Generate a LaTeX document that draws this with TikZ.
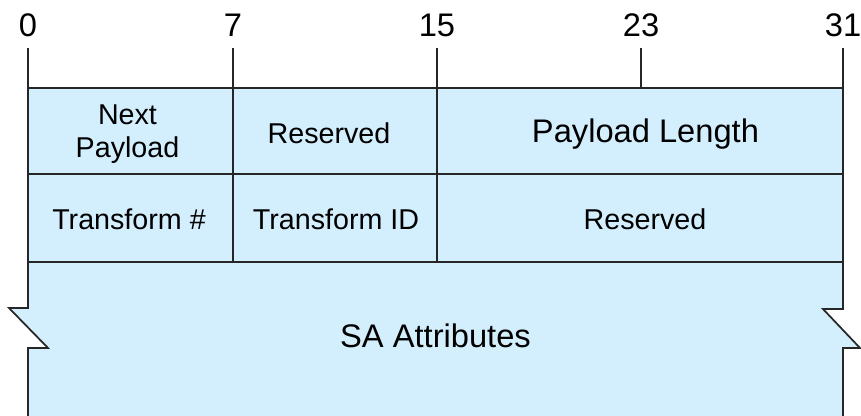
\documentclass[tikz,border=0pt]{standalone}
\usepackage{fontspec}
\setmainfont{Liberation Sans}
\usetikzlibrary{positioning}
\definecolor{fieldblue}{RGB}{211,238,252}

\begin{document}
\begin{tikzpicture}[x=0.75pt,y=-0.75pt,
  edge/.style={draw=black!85,line width=1.3pt},
  fieldtxt/.style={font=\fontsize{21.5}{24.75}\selectfont,anchor=base},
  bigtxt/.style={font=\fontsize{24.5}{28}\selectfont,anchor=base}]
\useasboundingbox (0,0) rectangle (861,416);
% Bit ruler
\foreach \x/\b in {28/0,233/7,437/15,641/23,843/31}{
  \draw[line width=1pt,black!85] (\x,48) -- (\x,88);
  \node[bigtxt] (bit\b) at (\x,37) {\b};
}

% Header body with break marks
\fill[fieldblue] (28,88) -- (843,88) -- (843,309) -- (823,309) -- (860,348) -- (843,348) -- (843,416)
  -- (28,416) -- (28,348) -- (48,348) -- (9,308) -- (28,308) -- cycle;
\draw[edge] (28,416) -- (28,348) -- (48,348) -- (9,308) -- (28,308) -- (28,88) -- (843,88)
  -- (843,309) -- (823,309) -- (860,348) -- (843,348) -- (843,416);
\draw[edge] (28,174) -- (843,174);
\draw[edge] (28,262) -- (843,262);
\draw[edge] (233,88) -- (233,262);
\draw[edge] (437,88) -- (437,262);

% Fields
\node[fieldtxt,align=center,anchor=center] (nextpl) at (127.5,134.5) {Next\\Payload};
\node[fieldtxt] (resvA) at (329,144) {Reserved};
\node[bigtxt] (pllen) at (645.5,143) {Payload Length};
\node[fieldtxt] (trnum) at (129,229.5) {Transform \#};
\node[fieldtxt] (trid) at (336,230) {Transform ID};
\node[fieldtxt] (resvB) at (645,229.5) {Reserved};
\node[bigtxt] (saattr) at (435.5,348) {SA Attributes};
\end{tikzpicture}
\end{document}
